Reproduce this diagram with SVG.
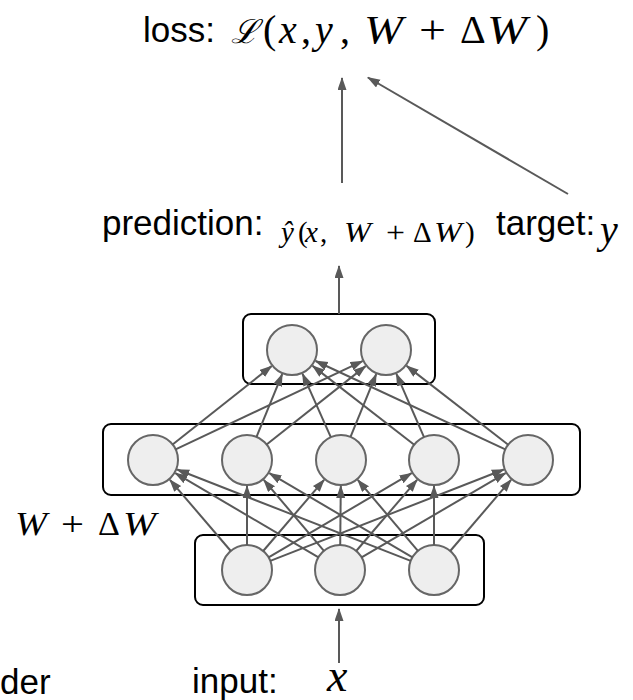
<svg xmlns="http://www.w3.org/2000/svg" width="633" height="700" viewBox="0 0 633 700">
<style>
.box{fill:none;stroke:#000;stroke-width:2}
.n{fill:#eeeeee;stroke:#666666;stroke-width:2}
.c{stroke:#595959;stroke-width:2;fill:none;marker-end:url(#ah)}
.t{font-family:"Liberation Sans",Arial,sans-serif;font-size:35px;fill:#000}
.m{font-family:"Liberation Serif","DejaVu Serif",serif;fill:#000}
.i{font-style:italic}
</style>
<defs>
<marker id="ah" markerUnits="userSpaceOnUse" markerWidth="14" markerHeight="10" refX="12" refY="4.5" orient="auto">
<path d="M0,0 L13,4.5 L0,9 z" fill="#595959"/>
</marker>
</defs>
<g id="labels">
<text class="t" x="143" y="42">loss:</text>
<text class="m" y="43" font-size="40"><tspan x="231" class="i" font-size="33">ℒ</tspan><tspan x="263">(</tspan><tspan x="279" class="i">x</tspan><tspan x="301">,</tspan><tspan x="315" class="i">y</tspan><tspan x="340">,</tspan><tspan x="364" class="i" textLength="39" lengthAdjust="spacingAndGlyphs">W</tspan><tspan x="419" textLength="27" lengthAdjust="spacingAndGlyphs">+</tspan><tspan x="460">Δ</tspan><tspan x="487" class="i" textLength="40" lengthAdjust="spacingAndGlyphs">W</tspan><tspan x="536">)</tspan></text>
<text class="t" x="102" y="235">prediction:</text>
<text class="m" y="242" font-size="29"><tspan x="281" class="i">ŷ</tspan><tspan x="298">(</tspan><tspan x="305" class="i">x</tspan><tspan x="320">,</tspan><tspan x="344" class="i" textLength="27" lengthAdjust="spacingAndGlyphs">W</tspan><tspan x="386" textLength="19" lengthAdjust="spacingAndGlyphs">+</tspan><tspan x="413">Δ</tspan><tspan x="434" class="i" textLength="28" lengthAdjust="spacingAndGlyphs">W</tspan><tspan x="465">)</tspan></text>
<text class="t" x="496" y="235">target:</text>
<text class="m i" x="600" y="243" font-size="40">y</text>
<text class="m" y="535" font-size="34"><tspan x="15" class="i" textLength="32" lengthAdjust="spacingAndGlyphs">W</tspan><tspan x="61" textLength="23" lengthAdjust="spacingAndGlyphs">+</tspan><tspan x="98">Δ</tspan><tspan x="123" class="i" textLength="33" lengthAdjust="spacingAndGlyphs">W</tspan></text>
<text class="t" x="192" y="693">input:</text>
<text class="m i" x="327" y="691" font-size="46">x</text>
<text class="t" x="0" y="694">der</text>
</g>
<g id="layer-top">
<rect class="box" x="243" y="314" width="192" height="70" rx="8"/>
<g id="t1"><circle class="n" cx="292" cy="350" r="25"/></g>
<g id="t2"><circle class="n" cx="386" cy="350" r="25"/></g>
</g>
<g id="layer-hidden">
<rect class="box" x="103" y="424" width="477" height="71" rx="8"/>
<g id="m1"><circle class="n" cx="153" cy="460" r="25"/></g>
<g id="m2"><circle class="n" cx="247" cy="460" r="25"/></g>
<g id="m3"><circle class="n" cx="341" cy="460" r="25"/></g>
<g id="m4"><circle class="n" cx="434" cy="460" r="25"/></g>
<g id="m5"><circle class="n" cx="528" cy="460" r="25"/></g>
</g>
<g id="layer-input">
<rect class="box" x="195" y="535" width="289" height="70" rx="8"/>
<g id="b1"><circle class="n" cx="247" cy="570" r="25"/></g>
<g id="b2"><circle class="n" cx="340" cy="570" r="25"/></g>
<g id="b3"><circle class="n" cx="434" cy="570" r="25"/></g>
</g>
<g id="connectors">
<line class="c" x1="230.8" y1="551" x2="169.9" y2="479.8"/>
<line class="c" x1="247" y1="545" x2="247" y2="486"/>
<line class="c" x1="263.2" y1="551" x2="324.1" y2="479.8"/>
<line class="c" x1="268.6" y1="557.3" x2="411.6" y2="473.2"/>
<line class="c" x1="270.3" y1="560.9" x2="503.8" y2="469.5"/>
<line class="c" x1="318.5" y1="557.3" x2="175.4" y2="473.2"/>
<line class="c" x1="323.9" y1="550.9" x2="263.8" y2="479.9"/>
<line class="c" x1="340.2" y1="545" x2="340.8" y2="486"/>
<line class="c" x1="356.2" y1="551" x2="417.1" y2="479.8"/>
<line class="c" x1="361.6" y1="557.4" x2="505.6" y2="473.1"/>
<line class="c" x1="410.7" y1="560.9" x2="177.2" y2="469.5"/>
<line class="c" x1="412.5" y1="557.3" x2="269.4" y2="473.2"/>
<line class="c" x1="417.9" y1="550.9" x2="357.8" y2="479.9"/>
<line class="c" x1="434" y1="545" x2="434" y2="486"/>
<line class="c" x1="450.2" y1="551" x2="511.1" y2="479.8"/>
<line class="c" x1="172.6" y1="444.5" x2="271.6" y2="366.1"/>
<line class="c" x1="175.6" y1="449.3" x2="362.5" y2="361.1"/>
<line class="c" x1="256.5" y1="436.9" x2="282.2" y2="374.1"/>
<line class="c" x1="266.6" y1="444.5" x2="365.6" y2="366.1"/>
<line class="c" x1="330.8" y1="437.2" x2="302.6" y2="373.8"/>
<line class="c" x1="350.5" y1="436.9" x2="376.2" y2="374.1"/>
<line class="c" x1="414.2" y1="444.7" x2="312.6" y2="365.9"/>
<line class="c" x1="424" y1="437.1" x2="396.4" y2="373.8"/>
<line class="c" x1="505.3" y1="449.4" x2="315.6" y2="361"/>
<line class="c" x1="508.2" y1="444.7" x2="406.6" y2="365.9"/>
<line class="c" x1="339" y1="314" x2="339" y2="266"/>
<line class="c" x1="342" y1="183" x2="342" y2="78"/>
<line class="c" x1="568" y1="194" x2="367.9" y2="77.5"/>
<line class="c" x1="339" y1="663" x2="339" y2="609"/>
</g>
</svg>
